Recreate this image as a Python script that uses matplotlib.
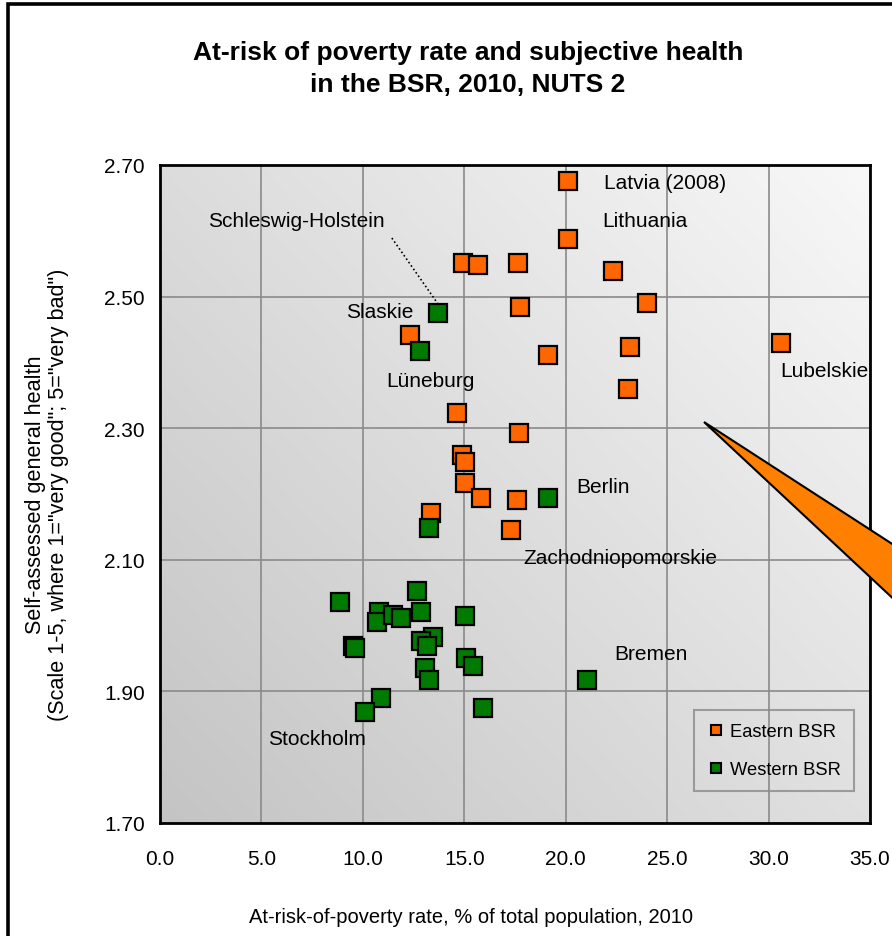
import numpy as np
import matplotlib
matplotlib.use("Agg")
import matplotlib.pyplot as plt
from matplotlib.patches import Rectangle, Polygon
from matplotlib.lines import Line2D

plt.rcParams['font.family'] = ['Liberation Sans', 'DejaVu Sans']

# ---- data -------------------------------------------------------------
east_x = [20.10, 20.10, 14.93, 15.67, 17.64, 22.33, 24.00, 17.74, 19.12, 23.16,
          23.07, 30.60, 12.32, 14.64, 17.68, 14.90, 15.02, 15.02, 15.80, 17.58,
          13.34, 17.28]
east_y = [2.676, 2.588, 2.551, 2.548, 2.551, 2.539, 2.490, 2.484, 2.411, 2.423,
          2.360, 2.430, 2.442, 2.323, 2.293, 2.259, 2.249, 2.216, 2.194, 2.191,
          2.171, 2.146]

west_x = [13.72, 12.83, 13.24, 19.15, 21.03, 8.89, 10.78, 10.68, 11.47, 11.86,
          12.65, 12.85, 15.02, 9.50, 9.60, 13.44, 12.85, 13.14, 15.10, 15.41,
          13.05, 13.24, 10.88, 10.09, 15.90]
west_y = [2.475, 2.417, 2.149, 2.194, 1.918, 2.036, 2.021, 2.006, 2.016, 2.012,
          2.052, 2.021, 2.015, 1.969, 1.966, 1.982, 1.976, 1.969, 1.951, 1.939,
          1.936, 1.918, 1.890, 1.868, 1.875]

series_names = ["Eastern BSR", "Western BSR"]

x_ticks = [0.0, 5.0, 10.0, 15.0, 20.0, 25.0, 30.0, 35.0]
y_ticks = [1.70, 1.90, 2.10, 2.30, 2.50, 2.70]
x_tick_labels = ["0.0", "5.0", "10.0", "15.0", "20.0", "25.0", "30.0", "35.0"]
y_tick_labels = ["1.70", "1.90", "2.10", "2.30", "2.50", "2.70"]

region_names = ["Latvia (2008)", "Lithuania", "Schleswig-Holstein", "Slaskie",
                "Lüneburg", "Lubelskie", "Berlin", "Zachodniopomorskie",
                "Bremen", "Stockholm"]

title = "At-risk of poverty rate and subjective health\nin the BSR, 2010, NUTS 2"
x_label = "At-risk-of-poverty rate, % of total population, 2010"
y_label = 'Self-assessed general health\n(Scale 1-5, where 1="very good"; 5="very bad")'

# ---- layout -----------------------------------------------------------
W, H = 892, 937
label_pos = [(21.88, 2.674), (21.78, 2.616), (2.37, 2.616), (9.17, 2.477),
             (11.14, 2.373), (30.56, 2.388), (20.50, 2.212), (17.89, 2.104),
             (22.38, 1.957), (5.32, 1.829)]

ORANGE = "#FF6600"
GREEN = "#007A00"


def fx(px):
    return px / W


def fy(py):
    return 1 - py / H


fig = plt.figure(figsize=(W / 100, H / 100), dpi=100)
fig.patch.set_facecolor("white")

ax = fig.add_axes([fx(160), fy(824), fx(870) - fx(160), fy(166) - fy(824)])
ax.set_xlim(x_ticks[0], x_ticks[-1])
ax.set_ylim(y_ticks[0], y_ticks[-1])

# diagonal grey gradient behind the plot
u, v = np.meshgrid(np.linspace(0, 1, 300), np.linspace(0, 1, 300))
shade = (196 + 28 * u + 24 * v) / 255.0
ax.imshow(np.dstack([shade, shade, shade]), extent=[0, 1, 0, 1], origin="lower",
          transform=ax.transAxes, aspect="auto", zorder=0, interpolation="bilinear")

ax.set_xticks(x_ticks)
ax.set_xticklabels(x_tick_labels)
ax.set_yticks(y_ticks)
ax.set_yticklabels(y_tick_labels)
ax.tick_params(length=0, labelsize=15, colors="black")
ax.tick_params(axis="x", pad=19)
ax.tick_params(axis="y", pad=11)
ax.grid(True, color="#8a8a8a", lw=1.2, zorder=1)
ax.set_axisbelow(True)
for s in ax.spines.values():
    s.set_linewidth(2.0)
    s.set_color("black")
    s.set_zorder(5)

mk = dict(marker="s", ms=13, mew=1.6, mec="black", ls="none", zorder=3)
ax.plot(east_x, east_y, mfc=ORANGE, **mk)
ax.plot(west_x, west_y, mfc=GREEN, **mk)

# region labels
for name, (lx, ly) in zip(region_names, label_pos):
    ax.text(lx, ly, name, fontsize=15, ha="left", va="center", zorder=4)

# dotted leader to Schleswig-Holstein
ax.plot([11.43, 13.70], [2.589, 2.489], ls=(0, (1, 1.5)), color="black", lw=1.2, zorder=2)

# legend
handles = [Line2D([], [], marker="s", ms=7.5, mew=1.5, mec="black", mfc=c, ls="none")
           for c in (ORANGE, GREEN)]
leg = ax.legend(handles, series_names, loc="lower right", bbox_to_anchor=(0.9775, 0.048),
                fontsize=13.2, frameon=True, fancybox=False, handletextpad=0.25,
                handlelength=1.0, labelspacing=1.15, borderpad=0.72, borderaxespad=0)
leg.get_frame().set_edgecolor("#8a8a8a")
leg.get_frame().set_linewidth(1.5)
leg.get_frame().set_facecolor("none")

# callout pointer running off to the right
pts = [(704, 423), (900, 550), (900, 606)]
fig.patches.append(Polygon([(fx(a), fy(b)) for a, b in pts], closed=True,
                           transform=fig.transFigure, facecolor="#FF7F00",
                           edgecolor="black", lw=1.5, zorder=10))

# titles and axis labels
fig.text(fx(468), fy(69), title, ha="center", va="center", fontsize=19,
         fontweight="bold", linespacing=1.45)
fig.text(fx(471), fy(918), x_label, ha="center", va="center", fontsize=14.5)
fig.text(fx(47), fy(495), y_label, ha="center", va="center", rotation=90,
         fontsize=15.6, linespacing=1.15)

# outer frame
fig.patches.append(Rectangle((fx(7.5), fy(1000)), fx(1000), fy(5) - fy(1000),
                             transform=fig.transFigure, fill=False,
                             edgecolor="black", lw=2.6, zorder=11))

fig.savefig("out.png", dpi=100)
